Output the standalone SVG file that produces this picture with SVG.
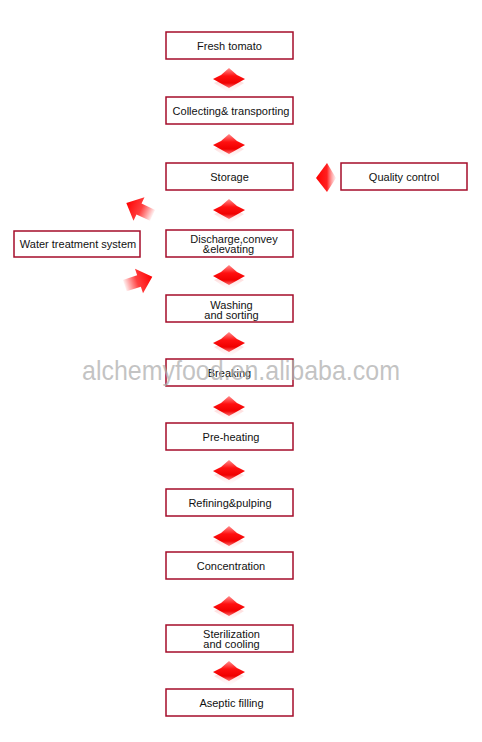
<svg xmlns="http://www.w3.org/2000/svg" width="482" height="742" viewBox="0 0 482 742">
<defs>
<style>
.box{fill:#fff;stroke:#a50d2a;stroke-width:1.5}
.t{font-family:"Liberation Sans",Arial,sans-serif;font-size:11px;fill:#111;text-anchor:middle}
.wm{font-family:"Liberation Sans",Arial,sans-serif;font-size:28px;fill:#b0b0b0;fill-opacity:0.75}
</style>
<linearGradient id="gd" x1="0" y1="0" x2="0" y2="1">
<stop offset="0" stop-color="#ff9090"/>
<stop offset="0.4" stop-color="#ff1010"/>
<stop offset="0.75" stop-color="#f00000"/>
<stop offset="1" stop-color="#ff7070"/>
</linearGradient>
<linearGradient id="gf" x1="0" y1="0" x2="0" y2="1">
<stop offset="0" stop-color="#ff9999" stop-opacity="0.8"/>
<stop offset="1" stop-color="#ffdddd" stop-opacity="0"/>
</linearGradient>
<linearGradient id="gs" x1="0" y1="0" x2="1" y2="0">
<stop offset="0" stop-color="#ff0000" stop-opacity="0.05"/>
<stop offset="0.45" stop-color="#ff1010" stop-opacity="0.8"/>
<stop offset="1" stop-color="#ff0000"/>
</linearGradient>
<linearGradient id="gq" x1="0" y1="0" x2="1" y2="0">
<stop offset="0" stop-color="#ff0000"/>
<stop offset="0.55" stop-color="#ff2020"/>
<stop offset="1" stop-color="#ff8080" stop-opacity="0.1"/>
</linearGradient>
<g id="down">
<path d="M0,7 L10,13 L15,15 L0,25 L-15,15 L-10,13 Z" fill="url(#gf)"/>
<path d="M0,0 L8,7 L16,11 L0,20 L-16,11 L-8,7 Z" fill="url(#gd)"/>
</g>
<path id="side" d="M-15,-6 L0,-6 L0,-13 L14,0 L0,13 L0,6 L-15,6 Z" fill="url(#gs)"/>
</defs>
<rect width="482" height="742" fill="#fff"/>

<g id="connectors">
<use href="#down" x="229" y="68"/>
<use href="#down" x="229" y="134"/>
<use href="#down" x="229" y="199"/>
<use href="#down" x="229" y="265"/>
<use href="#down" x="229" y="332"/>
<use href="#down" x="229" y="396"/>
<use href="#down" x="229" y="460"/>
<use href="#down" x="229" y="526"/>
<use href="#down" x="229" y="596"/>
<use href="#down" x="229" y="661"/>
<path d="M327,163 L316,178 L327,192 L336,178 Z" fill="url(#gq)"/>
<use href="#side" transform="translate(139,209) rotate(205)"/>
<use href="#side" transform="translate(139,281) rotate(-18)"/>
</g>

<g id="fresh"><rect class="box" x="166" y="32" width="127" height="27"/><text class="t" x="229.5" y="49.5">Fresh tomato</text></g>
<g id="collecting"><rect class="box" x="166" y="97" width="127" height="27"/><text class="t" x="231" y="114.5">Collecting&amp; transporting</text></g>
<g id="storage"><rect class="box" x="166" y="163" width="127" height="27"/><text class="t" x="229.5" y="180.5">Storage</text></g>
<g id="quality"><rect class="box" x="341" y="163" width="126" height="27"/><text class="t" x="404" y="180.5">Quality control</text></g>
<g id="water"><rect class="box" x="14" y="231" width="126" height="26"/><text class="t" x="78" y="248">Water treatment system</text></g>
<g id="discharge"><rect class="box" x="166" y="230" width="127" height="27"/><text class="t" x="234" y="243">Discharge,convey</text><text class="t" x="228.5" y="253">&amp;elevating</text></g>
<g id="washing"><rect class="box" x="166" y="295" width="127" height="27"/><text class="t" x="231.5" y="308.5">Washing</text><text class="t" x="231.5" y="318.5">and sorting</text></g>
<g id="breaking"><rect class="box" x="166" y="359" width="127" height="27"/><text class="t" x="229.5" y="377">Breaking</text></g>
<g id="preheating"><rect class="box" x="166" y="423" width="127" height="27"/><text class="t" x="231" y="440.5">Pre-heating</text></g>
<g id="refining"><rect class="box" x="166" y="489" width="127" height="27"/><text class="t" x="230" y="506.5">Refining&amp;pulping</text></g>
<g id="concentration"><rect class="box" x="166" y="552" width="127" height="27"/><text class="t" x="231" y="569.5">Concentration</text></g>
<g id="sterilization"><rect class="box" x="166" y="625" width="127" height="27"/><text class="t" x="231.5" y="637.5">Sterilization</text><text class="t" x="231.5" y="647.5">and cooling</text></g>
<g id="aseptic"><rect class="box" x="166" y="689" width="127" height="27"/><text class="t" x="231.5" y="706.5">Aseptic filling</text></g>

<text class="wm" x="82" y="380" textLength="318" lengthAdjust="spacingAndGlyphs">alchemyfood.en.alibaba.com</text>
</svg>
